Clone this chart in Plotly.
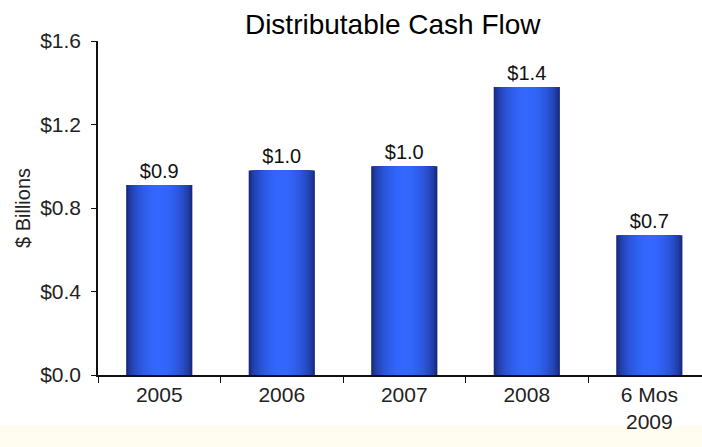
import plotly.graph_objects as go
import numpy as np

categories = ["2005", "2006", "2007", "2008", "6 Mos<br>2009"]
values = [0.91, 0.98, 1.0, 1.38, 0.67]
value_labels = ["$0.9", "$1.0", "$1.0", "$1.4", "$0.7"]
y_ticks = [0.0, 0.4, 0.8, 1.2, 1.6]
y_tick_labels = ["$0.0", "$0.4", "$0.8", "$1.2", "$1.6"]

FONT = "Arial, Liberation Sans, sans-serif"
bar_w = 0.54
dark = np.array([24, 40, 125])
bright = np.array([52, 104, 255])

fig = go.Figure()
N = 20
for k in range(N):
    w = bar_w * (1 - k / N)
    frac = w / bar_w
    t = (1 - frac ** 2) ** 0.7
    c = dark + (bright - dark) * t
    col = "rgb(%d,%d,%d)" % tuple(c.astype(int))
    fig.add_trace(go.Bar(
        x=categories, y=values, width=w,
        marker=dict(color=col, line=dict(width=0)),
        text=value_labels if k == 0 else None,
        textposition="outside" if k == 0 else "none",
        textfont=dict(family=FONT, size=20, color="#111111"),
        cliponaxis=False, hoverinfo="skip", showlegend=False,
    ))

fig.update_layout(
    width=702, height=447,
    barmode="overlay",
    paper_bgcolor="white", plot_bgcolor="white",
    margin=dict(l=98, r=0, t=41, b=72),
    title=dict(text="Distributable Cash Flow", xref="paper", x=0.488, xanchor="center",
               yref="container", y=0.945, yanchor="middle",
               font=dict(family=FONT, size=28, color="black")),
    font=dict(family=FONT, size=20, color="#222222"),
    xaxis=dict(range=[-0.5, 4.43], showline=True, linecolor="#111111", linewidth=1.5,
               ticks="outside", tickson="boundaries", ticklen=6, tickcolor="#111111",
               showgrid=False, zeroline=False,
               tickfont=dict(family=FONT, size=21, color="#222222")),
    yaxis=dict(range=[0, 1.6], tickvals=y_ticks, ticktext=y_tick_labels,
               showline=True, linecolor="#111111", linewidth=1.5,
               ticks="outside", ticklen=5, tickcolor="#111111",
               ticklabelstandoff=6,
               showgrid=False, zeroline=False,
               title=dict(text="$ Billions", standoff=4,
                          font=dict(family=FONT, size=20, color="#222222")),
               tickfont=dict(family=FONT, size=21, color="#222222")),
    shapes=[dict(type="rect", xref="paper", yref="paper", x0=-0.2, x1=1.0,
                 y0=-0.15, y1=-0.22, line=dict(width=0),
                 fillcolor="#fffdf0", layer="below")],
)
fig.write_html(
    "out.html",
    config={"displayModeBar": False},
    post_script="document.body.style.margin='0';document.body.style.overflow='hidden';",
)
